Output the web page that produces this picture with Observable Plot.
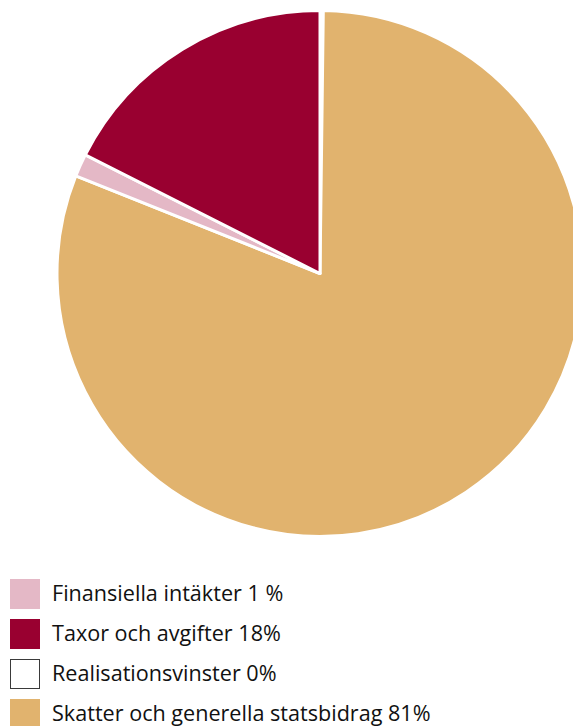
<!DOCTYPE html>
<html>
<head>
<meta charset="utf-8">
<script src="https://cdn.jsdelivr.net/npm/d3@7"></script>
<script src="https://cdn.jsdelivr.net/npm/@observablehq/plot@0.6"></script>
<style>
  html, body { margin: 0; padding: 0; background: #fff; }
  #chart svg { display: block; }
  .legend { margin: 0; padding: 0; font-family: "Open Sans", sans-serif; font-size: 21.6px; color: #111; }
  .row { display: flex; align-items: center; height: 40px; }
  .sw { width: 30px; height: 30px; margin-left: 10px; margin-right: 12px; box-sizing: border-box; flex: none; }
  .row span { position: relative; top: -2px; }
</style>
</head>
<body>
<div id="chart"></div>
<div class="legend" id="legend"></div>
<script>
// Slices in clockwise order from 12 o'clock
const sliceNames = ["Realisationsvinster", "Skatter och generella statsbidrag", "Finansiella intäkter", "Taxor och avgifter"];
const sliceValues = [0.2, 80.85, 1.4, 17.55];
const sliceColors = ["#ffffff", "#e1b36e", "#e4b8c6", "#990030"];

// Legend order and labels as printed
const legendNames = ["Finansiella intäkter", "Taxor och avgifter", "Realisationsvinster", "Skatter och generella statsbidrag"];
const legendLabels = ["Finansiella intäkter 1 %", "Taxor och avgifter 18%", "Realisationsvinster 0%", "Skatter och generella statsbidrag 81%"];

const slices = sliceNames.map((name, i) => ({name, value: sliceValues[i], color: sliceColors[i]}));

const pieMark = Plot.dot(slices, {
  x: () => 0,
  y: () => 0,
  render(index, scales, values, dimensions, context) {
    const cx = scales.x(0), cy = scales.y(0);
    const r = Math.abs(scales.x(1) - scales.x(0)) + 1.5;
    const arcs = d3.pie().sort(null).value(d => d.value).startAngle(0).endAngle(2 * Math.PI)(slices);
    const arc = d3.arc().innerRadius(0).outerRadius(r);
    const g = d3.create("svg:g").attr("transform", `translate(${cx},${cy})`);
    g.selectAll("path")
      .data(arcs)
      .join("path")
      .attr("d", arc)
      .attr("fill", d => d.data.color)
      .attr("stroke", "#ffffff")
      .attr("stroke-width", 3)
      .attr("stroke-linejoin", "round");
    return g.node();
  }
});

const chart = Plot.plot({
  width: 573,
  height: 574,
  marginLeft: 58.5,
  marginRight: 0,
  marginTop: 12,
  marginBottom: 39,
  x: {domain: [-1, (573 - 320) / 261.5], axis: null},
  y: {domain: [-1, 1], axis: null},
  style: {background: "#fff"},
  marks: [pieMark]
});
document.getElementById("chart").appendChild(chart);

const legend = document.getElementById("legend");
legendNames.forEach((name, i) => {
  const s = slices.find(d => d.name === name);
  const row = document.createElement("div");
  row.className = "row";
  const sw = document.createElement("div");
  sw.className = "sw";
  sw.style.background = s.color;
  if (s.color === "#ffffff") sw.style.border = "1px solid #3a3a3a";
  const t = document.createElement("span");
  t.textContent = legendLabels[i];
  row.appendChild(sw);
  row.appendChild(t);
  legend.appendChild(row);
});
</script>
</body>
</html>
